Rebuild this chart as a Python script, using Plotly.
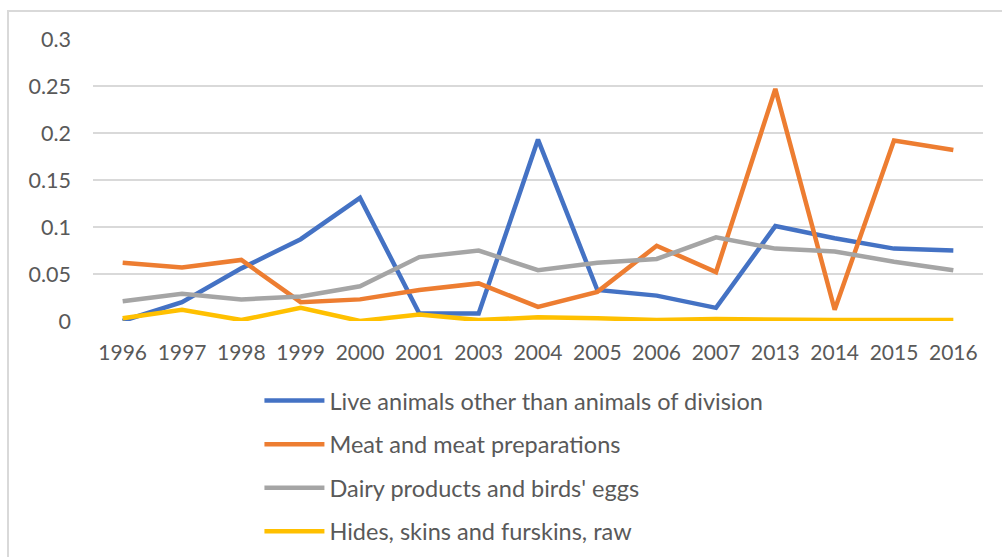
import plotly.graph_objects as go

years = ["1996", "1997", "1998", "1999", "2000", "2001", "2003", "2004",
         "2005", "2006", "2007", "2013", "2014", "2015", "2016"]

live_animals = [0.000, 0.020, 0.056, 0.087, 0.131, 0.008, 0.008, 0.193,
                0.033, 0.027, 0.014, 0.101, 0.088, 0.077, 0.075]
meat = [0.062, 0.057, 0.065, 0.020, 0.023, 0.033, 0.040, 0.015,
        0.031, 0.080, 0.052, 0.247, 0.012, 0.192, 0.182]
dairy = [0.021, 0.029, 0.023, 0.026, 0.037, 0.068, 0.075, 0.054,
         0.062, 0.066, 0.089, 0.077, 0.074, 0.063, 0.054]
hides = [0.003, 0.012, 0.001, 0.014, 0.000, 0.007, 0.001, 0.004,
         0.003, 0.001, 0.002, 0.001, 0.001, 0.001, 0.001]

series_names = ["Live animals other than animals of division",
                "Meat and meat preparations",
                "Dairy products and birds' eggs",
                "Hides, skins and furskins, raw"]
series_values = [live_animals, meat, dairy, hides]
series_colors = ["#4472C4", "#ED7D31", "#A5A5A5", "#FFC000"]

y_ticks = [0, 0.05, 0.1, 0.15, 0.2, 0.25, 0.3]
y_tick_labels = ["0", "0.05", "0.1", "0.15", "0.2", "0.25", "0.3"]

fig = go.Figure()
for i, (name, vals, col) in enumerate(zip(series_names, series_values, series_colors)):
    fig.add_trace(go.Scatter(x=years, y=vals, name=name, mode="lines",
                             legendgroup=f"g{i}",
                             line=dict(color=col, width=4.5)))

font_family = "Lato, 'Open Sans', sans-serif"
text_color = "#595959"

fig.update_layout(
    width=1002, height=557,
    paper_bgcolor="white", plot_bgcolor="white",
    margin=dict(l=93, r=19, t=39, b=236, autoexpand=False),
    font=dict(family=font_family, color=text_color, size=20),
    showlegend=True,
    legend=dict(orientation="v", x=0.187, xanchor="left", y=-0.205, yanchor="top",
                font=dict(size=23.5, color=text_color), itemwidth=60,
                traceorder="grouped", tracegroupgap=10,
                bgcolor="rgba(0,0,0,0)"),
    xaxis=dict(type="category", range=[-0.5, 14.5], showgrid=False,
               showline=False, zeroline=False, ticks="", automargin=False,
               ticklabelstandoff=17,
               tickfont=dict(size=21, color=text_color)),
    yaxis=dict(range=[0, 0.3], tickvals=y_ticks, ticktext=y_tick_labels,
               showgrid=True, gridcolor="#D9D9D9", gridwidth=1.5,
               zeroline=False, showline=False, ticks="", ticklabelstandoff=21,
               automargin=False,
               tickfont=dict(size=21.5, color=text_color)),
    shapes=[dict(type="rect", xref="paper", yref="paper",
                 x0=-0.0955, x1=1.1, y0=-0.9, y1=1.0993,
                 line=dict(color="#D9D9D9", width=2), layer="below")],
)

fig.write_html("out.html",
               config={"displayModeBar": False},
               post_script="document.body.style.margin='0';document.body.style.overflow='hidden';")
